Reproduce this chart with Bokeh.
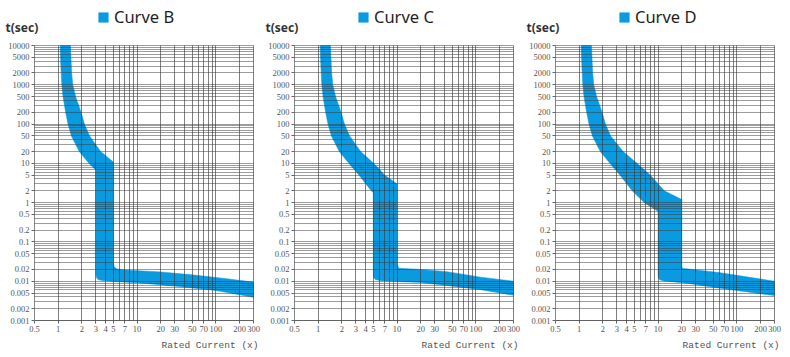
import math
from bokeh.plotting import figure
from bokeh.models import FixedTicker, CustomJSTickFormatter, Label, Legend, LegendItem
from bokeh.layouts import row
from bokeh.embed import file_html
from bokeh.resources import INLINE

# ---------------- data ----------------
titles = ["Curve B", "Curve C", "Curve D"]

x_ticks = [0.5, 1, 2, 3, 4, 5, 7, 10, 20, 30, 50, 70, 100, 200, 300]
y_ticks = [0.001, 0.002, 0.005, 0.01, 0.02, 0.05, 0.1, 0.2, 0.5, 1, 2, 5,
           10, 20, 50, 100, 200, 500, 1000, 2000, 5000, 10000]
x_grid = [1, 2, 3, 4, 5, 6, 7, 8, 9, 10, 20, 30, 40, 50, 60, 70, 80, 90,
          100, 200, 300]
y_grid = [0.001, 0.002, 0.003, 0.004, 0.005, 0.006, 0.007, 0.008, 0.009,
          0.01, 0.02, 0.03, 0.04, 0.05, 0.06, 0.07, 0.08, 0.09,
          0.1, 0.2, 0.3, 0.4, 0.5, 0.6, 0.7, 0.8, 0.9,
          1, 2, 3, 4, 5, 6, 7, 8, 9,
          10, 20, 30, 40, 50, 60, 70, 80, 90,
          100, 200, 300, 400, 500, 600, 700, 800, 900,
          1000, 2000, 3000, 4000, 5000, 6000, 7000, 8000, 9000, 10000]

# Curve B : lower/left boundary and upper/right boundary (x = I/In, t = sec)
b_low_x = [1.06, 1.07, 1.09, 1.11, 1.15, 1.24, 1.33, 1.47, 1.85, 2.45, 3.0,
           3.0, 3.05, 3.2, 3.6, 5, 10, 30, 100, 300]
b_low_t = [10000, 5000, 2000, 1000, 500, 200, 100, 50, 20, 10, 6.8,
           0.016, 0.0125, 0.011, 0.0104, 0.0098, 0.0092, 0.0075, 0.0058, 0.0039]
b_up_x = [1.43, 1.45, 1.48, 1.53, 1.66, 1.95, 2.15, 2.5, 3.45, 5.0,
          5.0, 5.1, 5.4, 6, 8, 20, 50, 100, 300]
b_up_t = [10000, 5000, 2000, 1000, 500, 200, 100, 50, 20, 10.8,
          0.03, 0.024, 0.021, 0.0198, 0.019, 0.0172, 0.0145, 0.0125, 0.0095]

# Curve C
c_low_x = [1.06, 1.07, 1.09, 1.11, 1.15, 1.24, 1.33, 1.47, 1.85, 2.45, 3.3, 4.7, 5.0,
           5.0, 5.05, 5.3, 6.2, 10, 20, 43, 115, 300]
c_low_t = [10000, 5000, 2000, 1000, 500, 200, 100, 50, 20, 10, 5, 2, 1.8,
           0.016, 0.0125, 0.011, 0.0103, 0.0098, 0.0093, 0.0078, 0.0061, 0.0044]
c_up_x = [1.43, 1.45, 1.48, 1.53, 1.66, 1.95, 2.15, 2.5, 3.45, 5.05, 7.0, 10.0,
          10.0, 10.1, 10.5, 12, 20, 43, 115, 300]
c_up_t = [10000, 5000, 2000, 1000, 500, 200, 100, 50, 20, 10, 5, 3.0,
          0.031, 0.025, 0.0215, 0.021, 0.020, 0.0175, 0.0127, 0.0100]

# Curve D
d_low_x = [1.06, 1.07, 1.09, 1.11, 1.15, 1.24, 1.33, 1.47, 1.85, 2.45, 3.3, 4.7, 6.7, 10.0,
           10.0, 10.1, 10.6, 12, 23.5, 62, 300]
d_low_t = [10000, 5000, 2000, 1000, 500, 200, 100, 50, 20, 10, 5, 2, 1, 0.6,
           0.015, 0.012, 0.0108, 0.0102, 0.0089, 0.0066, 0.0043]
d_up_x = [1.43, 1.45, 1.48, 1.53, 1.66, 1.95, 2.15, 2.5, 3.6, 5.4, 8.0, 12.0, 20.0,
          20.0, 20.2, 21, 24, 62, 300]
d_up_t = [10000, 5000, 2000, 1000, 500, 200, 100, 50, 20, 10, 5, 2, 1.2,
          0.025, 0.022, 0.021, 0.0205, 0.0164, 0.0100]

bands = [(b_low_x, b_low_t, b_up_x, b_up_t),
         (c_low_x, c_low_t, c_up_x, c_up_t),
         (d_low_x, d_low_t, d_up_x, d_up_t)]

# ---------------- layout / styling ----------------
BLUE = "#0a9ae0"
FW, FH = 219, 275            # pixel size of the data area
X0, X1 = 0.5, 300
Y0, Y1 = 0.001, 10000
PPX = FW / math.log10(X1 / X0)   # pixels per decade
PPY = FH / math.log10(Y1 / Y0)
TOP, BOTTOM = 45, 37

panels = [(34, 8), (33, 9), (33, 16)]   # left / right margins of each panel
H = TOP + FH + BOTTOM

figs = []
for i, (title, band) in enumerate(zip(titles, bands)):
    bl, br = panels[i]
    W = bl + FW + br
    xs0 = X0 * 10 ** (-bl / PPX)
    xs1 = X1 * 10 ** (br / PPX)
    ys1 = Y1 * 10 ** (TOP / PPY)
    ys0 = Y0 * 10 ** (-BOTTOM / PPY)

    def fx(px):      # px from the panel's left edge
        return xs0 * 10 ** (px / PPX)

    def fy(py):      # py from the panel's top edge
        return ys1 * 10 ** (-py / PPY)

    p = figure(width=W, height=H, x_axis_type="log", y_axis_type="log",
               x_range=(xs0, xs1), y_range=(ys0, ys1), output_backend="svg",
               toolbar_location=None, min_border=0)
    p.outline_line_color = None
    p.background_fill_color = "white"
    p.border_fill_color = "white"

    lx, lt, ux, ut = band
    xs = list(lx) + list(reversed(ux))
    ys = list(lt) + list(reversed(ut))
    r = p.patch(xs, ys, fill_color=BLUE, line_color=BLUE, line_width=0.5)

    # grid
    p.xgrid.ticker = FixedTicker(ticks=x_grid)
    p.ygrid.ticker = FixedTicker(ticks=y_grid)
    native = True
    try:
        p.xgrid.cross_bounds = (Y0, Y1)
        p.ygrid.cross_bounds = (X0, X1)
        p.xgrid.bounds = (X0, X1)
        p.ygrid.bounds = (Y0, Y1)
    except AttributeError:
        native = False
    if native:
        p.xgrid.grid_line_color = "#3a3a3a"
        p.xgrid.grid_line_alpha = 0.65
        p.ygrid.grid_line_color = "#3a3a3a"
        p.ygrid.grid_line_alpha = 0.5
        p.xgrid.level = "overlay"
        p.ygrid.level = "overlay"
    else:
        p.xgrid.visible = False
        p.ygrid.visible = False
        p.segment(x0=x_grid, y0=[Y0] * len(x_grid), x1=x_grid, y1=[Y1] * len(x_grid),
                  line_color="#3a3a3a", line_alpha=0.65, line_width=1)
        p.segment(x0=[X0] * len(y_grid), y0=y_grid, x1=[X1] * len(y_grid), y1=y_grid,
                  line_color="#3a3a3a", line_alpha=0.5, line_width=1)

    # axes
    fmt = CustomJSTickFormatter(code="return tick.toString();")
    p.xaxis.ticker = FixedTicker(ticks=x_ticks)
    p.yaxis.ticker = FixedTicker(ticks=y_ticks)
    p.xaxis.formatter = fmt
    p.yaxis.formatter = fmt
    p.xaxis.fixed_location = Y0
    p.yaxis.fixed_location = X0
    p.xaxis.bounds = (X0, X1)
    p.yaxis.bounds = (Y0, Y1)
    for ax in (p.xaxis[0], p.yaxis[0]):
        ax.major_label_text_font = "Liberation Serif"
        ax.major_label_text_font_size = "8.5px"
        ax.major_label_text_color = "#555555"
        ax.axis_line_color = "#888888"
        ax.major_tick_line_color = "#666666"
        ax.major_tick_in = 0
        ax.major_tick_out = 3
        ax.minor_tick_line_color = None
        ax.major_label_standoff = 2

    # header legend: blue square + curve name
    leg = Legend(items=[LegendItem(label=title, renderers=[r])],
                 location=(bl + 63, H - 28), orientation="horizontal",
                 glyph_width=12, glyph_height=12, label_standoff=5,
                 padding=0, margin=0, spacing=0,
                 label_text_font="Noto Sans", label_text_font_size="16.5px",
                 label_text_font_style="normal",
                 label_text_color="#1e1e1e", label_height=12,
                 border_line_color=None, background_fill_alpha=0)
    p.add_layout(leg)

    p.add_layout(Label(x=fx(bl - 29), y=fy(27), text="t(sec)", text_font="Noto Sans",
                       text_font_size="12px", text_font_style="bold",
                       text_color="#333333", text_align="left", text_baseline="middle"))
    p.add_layout(Label(x=fx(bl + 224), y=fy(345), text="Rated Current (x)",
                       text_font="Liberation Mono", text_font_size="9.5px",
                       text_color="#555555", text_align="right", text_baseline="middle"))
    figs.append(p)

layout = row(*figs)
open("out.html", "w").write(file_html(layout, INLINE))
